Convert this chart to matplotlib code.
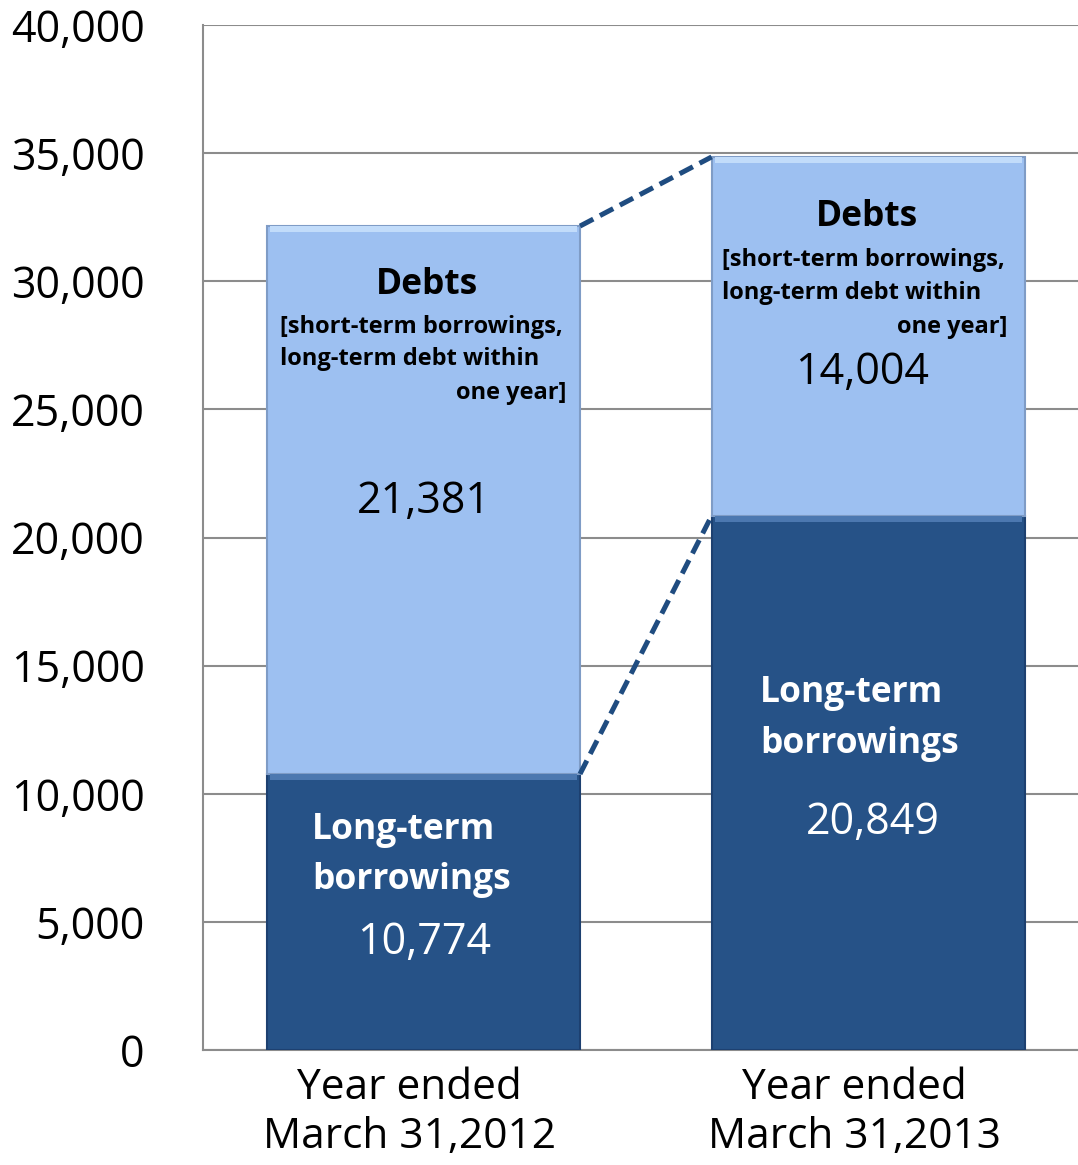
import numpy as np
import matplotlib.pyplot as plt
from matplotlib.transforms import ScaledTranslation

plt.rcParams['font.family'] = ['Open Sans', 'DejaVu Sans']

# data
categories = ['Year ended\nMarch 31,2012', 'Year ended\nMarch 31,2013']
long_term = [10774, 20849]      # Long-term borrowings
debts = [21381, 14004]          # Debts (short-term etc.)
yticks = np.arange(0, 40001, 5000)

light = '#9dc0f1'
dark = '#265287'
grid_c = '#8c8c8c'

fig = plt.figure(figsize=(10.78, 11.65), dpi=100)
ax = fig.add_axes([0.1883, 0.0987, 0.8117, 0.8798])

x = np.arange(len(categories))
w = 0.704
totals = np.array(long_term) + np.array(debts)

ax.bar(x, long_term, w, color=dark, edgecolor='#1d4070', linewidth=1.5, zorder=3)
ax.bar(x, debts, w, bottom=long_term, color=light, edgecolor='#7f9cc6', linewidth=1.5, zorder=3)
# bevel highlights on top of each segment
ax.bar(x, [250] * 2, w * 0.98, bottom=np.array(long_term) - 250, color='#4c78b0',
       linewidth=0, zorder=4)
ax.bar(x, [250] * 2, w * 0.98, bottom=totals - 250, color='#c2dcfa',
       linewidth=0, zorder=4)

# dashed connector lines
ax.plot([x[0] + w / 2, x[1] - w / 2], [totals[0], totals[1]], ls=(0, (3, 1.5)),
        color='#1f4c80', lw=3.6, zorder=5)
ax.plot([x[0] + w / 2, x[1] - w / 2], [long_term[0], long_term[1]], ls=(0, (3, 1.5)),
        color='#1f4c80', lw=3.6, zorder=5)

ax.set_ylim(0, 40000)
ax.set_xlim(-0.496, 1.472)
ax.set_yticks(yticks)
ax.set_yticklabels([f'{v:,}' for v in yticks], fontsize=31)
ax.set_xticks(x)
ax.set_xticklabels(categories, fontsize=30.5, linespacing=1.22)
ax.tick_params(length=0, pad=12)
ax.tick_params(axis='y', pad=42)
for lab in ax.get_yticklabels():
    lab.set_horizontalalignment('right')
shift = ScaledTranslation(-14 / 100, 0, fig.dpi_scale_trans)
for lab in ax.get_xticklabels():
    lab.set_transform(lab.get_transform() + shift)
ax.yaxis.grid(True, color=grid_c, lw=1.5, zorder=0)
ax.set_axisbelow(True)
for s in ['top', 'right']:
    ax.spines[s].set_visible(False)
for s in ['left', 'bottom']:
    ax.spines[s].set_color(grid_c)
    ax.spines[s].set_linewidth(1.5)


def px(xp):
    return (xp - 423.5) / 444.5


def py(yp):
    return (1050 - yp) / 128.125 * 5000


sub = ['[short-term borrowings,', 'long-term debt within', 'one year]']
fs_t, fs_s, fs_n, fs_l = 25.5, 17, 31, 25.5
# bar 1 labels
ax.text(px(427), py(285), 'Debts', ha='center', va='center', fontsize=fs_t, weight='bold', zorder=6)
ax.text(px(280), py(327), sub[0], ha='left', va='center', fontsize=fs_s, weight='bold', zorder=6)
ax.text(px(280), py(359), sub[1], ha='left', va='center', fontsize=fs_s, weight='bold', zorder=6)
ax.text(px(566), py(393), sub[2], ha='right', va='center', fontsize=fs_s, weight='bold', zorder=6)
ax.text(px(424), py(502), f'{debts[0]:,}', ha='center', va='center', fontsize=fs_n, zorder=6)
ax.text(px(312), py(830), 'Long-term', ha='left', va='center', fontsize=fs_l, weight='bold', color='white', zorder=6)
ax.text(px(312), py(880), 'borrowings', ha='left', va='center', fontsize=fs_l, weight='bold', color='white', zorder=6)
ax.text(px(424), py(943), f'{long_term[0]:,}', ha='center', va='center', fontsize=fs_n, color='white', zorder=6)

# bar 2 labels
ax.text(px(867), py(217), 'Debts', ha='center', va='center', fontsize=fs_t, weight='bold', zorder=6)
ax.text(px(722), py(260), sub[0], ha='left', va='center', fontsize=fs_s, weight='bold', zorder=6)
ax.text(px(722), py(293), sub[1], ha='left', va='center', fontsize=fs_s, weight='bold', zorder=6)
ax.text(px(1007), py(327), sub[2], ha='right', va='center', fontsize=fs_s, weight='bold', zorder=6)
ax.text(px(862), py(373), f'{debts[1]:,}', ha='center', va='center', fontsize=fs_n, zorder=6)
ax.text(px(760), py(693), 'Long-term', ha='left', va='center', fontsize=fs_l, weight='bold', color='white', zorder=6)
ax.text(px(760), py(744), 'borrowings', ha='left', va='center', fontsize=fs_l, weight='bold', color='white', zorder=6)
ax.text(px(873), py(823), f'{long_term[1]:,}', ha='center', va='center', fontsize=fs_n, color='white', zorder=6)

fig.savefig('out.png', dpi=100)
